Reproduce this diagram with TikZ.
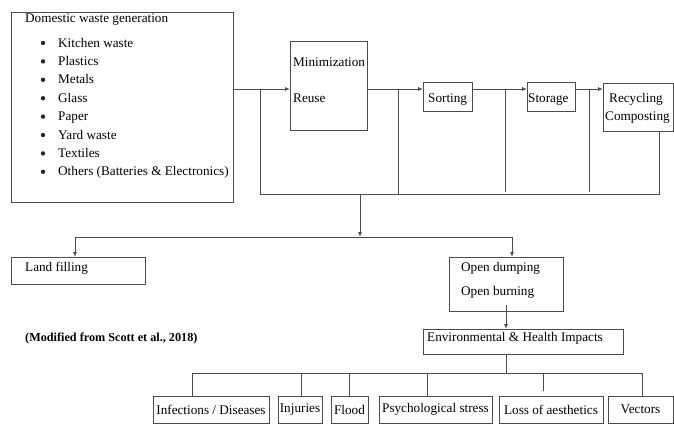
\documentclass[tikz,border=0pt]{standalone}
\usepackage{fontspec}
\setmainfont{Liberation Serif}
\usetikzlibrary{arrows.meta}
\begin{document}
\begin{tikzpicture}[x=1pt,y=-1pt,
  box/.style={draw=black!70, line width=0.9pt, inner sep=0pt, outer sep=0pt, anchor=north west,
    font=\fontsize{13.2}{15}\selectfont},
  lbl/.style={anchor=base west, inner sep=0pt, font=\fontsize{13.2}{15}\selectfont},
  dot/.style={circle, fill=black!85, inner sep=0pt, minimum size=4.4pt},
  ln/.style={draw=black!70, line width=0.9pt},
  arr/.style={ln, -{Latex[length=5pt,width=4pt]}},
]
\useasboundingbox (0,0) rectangle (674,426);

% boxes
\node[box, minimum width=222pt, minimum height=190pt] (dom) at (11,12) {};
\node[box, minimum width=77pt, minimum height=89pt] (mini) at (290,41) {};
\node[box, minimum width=49pt, minimum height=29pt] (sort) at (423,82) {};
\node[box, minimum width=48pt, minimum height=29pt] (stor) at (527,82) {};
\node[box, minimum width=70pt, minimum height=48pt] (rec) at (603,83) {};
\node[box, minimum width=134pt, minimum height=27pt] (land) at (11,257) {};
\node[box, minimum width=114pt, minimum height=54pt] (open) at (449,257) {};
\node[box, minimum width=200pt, minimum height=25pt] (env) at (423,329) {};
\node[box, minimum width=116pt, minimum height=27pt] (inf) at (153,396) {Infections / Diseases};
\node[box, minimum width=44pt, minimum height=27pt] (inj) at (278,396) {Injuries};
\node[box, minimum width=37pt, minimum height=27pt] (flo) at (331,396) {Flood};
\node[box, minimum width=113pt, minimum height=27pt] (psy) at (379,396) {Psychological stress};
\node[box, minimum width=104pt, minimum height=27pt] (los) at (499,396) {Loss of aesthetics};
\node[box, minimum width=65pt, minimum height=27pt] (vec) at (608,396) {Vectors};

% texts
\node[lbl] (tdom) at (25,22) {Domestic waste generation};
\foreach \t [count=\i] in {Kitchen waste, Plastics, Metals, Glass, Paper, Yard waste, Textiles, {Others (Batteries \& Electronics)}} {
  \node[dot] (bul\i) at (43,{43+(\i-1)*18.4}) {};
  \node[lbl] (item\i) at (58,{47+(\i-1)*18.4}) {\t};
}
\node[lbl] (tmin) at (293,66) {Minimization};
\node[lbl] (treu) at (293,102) {Reuse};
\node[lbl] (tsor) at (428,102) {Sorting};
\node[lbl] (tsto) at (528,102) {Storage};
\node[lbl] (trec) at (609,102) {Recycling};
\node[lbl] (tcom) at (605,120) {Composting};
\node[lbl] (tlan) at (25,271) {Land filling};
\node[lbl] (todu) at (461,271) {Open dumping};
\node[lbl] (tobu) at (461,295) {Open burning};
\node[lbl] (tenv) at (427,341) {Environmental \& Health Impacts};
\node[lbl, font=\fontsize{12.2}{14}\bfseries] (tmod) at (25,341) {(Modified from Scott et al., 2018)};

% coordinates
\coordinate (r) at (0,89);
\coordinate (j1) at (260,89);
\coordinate (j2) at (398,89);
\coordinate (j3) at (505,89);
\coordinate (j4) at (589,89);
\coordinate (bot) at (0,194);
\coordinate (rbx) at (659,0);
\coordinate (m) at (360,194);
\coordinate (h) at (360,237);
\coordinate (hl) at (75,237);
\coordinate (hr) at (512,237);
\coordinate (ox) at (506,305);
\coordinate (ey) at (506,373);
\coordinate (bl) at (192,373);
\coordinate (br) at (642,373);
\coordinate (x1) at (301,0);
\coordinate (x2) at (349,0);
\coordinate (x3) at (427,0);
\coordinate (x4) at (543,391);

% top flow
\draw[arr] (dom.east |- r) -- (mini.west |- r);
\draw[arr] (mini.east |- r) -- (sort.west |- r);
\draw[arr] (sort.east |- r) -- (stor.west |- r);
\draw[arr] (stor.east |- r) -- (rec.west |- r);
\draw[ln] (rec.south -| rbx) |- (j1 |- bot) -- (j1);
\draw[ln] (j2) -- (j2 |- bot);
\draw[ln] (j3) -- ++(0,103);
\draw[ln] (j4) -- ++(0,103);
\draw[arr] (m) -- (h);
\draw[ln] (hl) -- (hr);
\draw[arr] (hl) -- (land.north -| hl);
\draw[arr] (hr) -- (open.north -| hr);
\draw[arr] (ox) -- (env.north -| ox);
\draw[ln] (env.south -| ey) -- (ey);
\draw[ln] (bl) -- (br);
\draw[ln] (bl) -- (inf.north -| bl);
\draw[ln] (bl -| x1) -- (inj.north -| x1);
\draw[ln] (bl -| x2) -- (flo.north -| x2);
\draw[ln] (bl -| x3) -- (psy.north -| x3);
\draw[ln] (bl -| x4) -- (x4);
\draw[ln] (br) -- (vec.north -| br);
\end{tikzpicture}
\end{document}
